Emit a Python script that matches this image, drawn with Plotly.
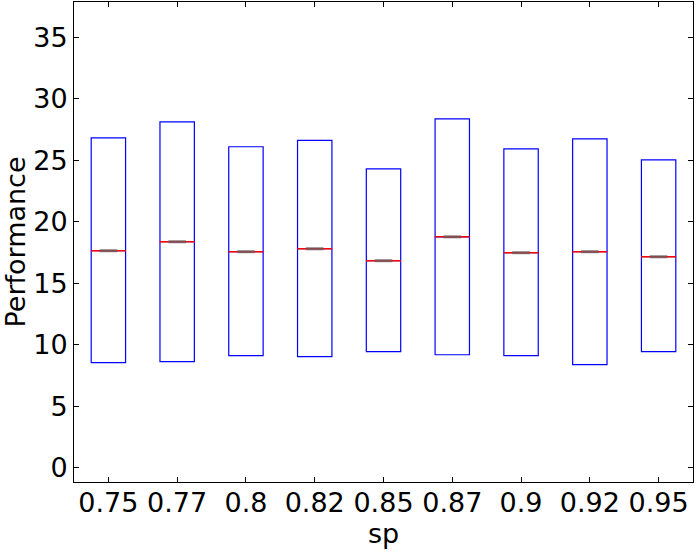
import plotly.graph_objects as go

categories = ["0.75", "0.77", "0.8", "0.82", "0.85", "0.87", "0.9", "0.92", "0.95"]
q1_values = [8.55, 8.63, 9.11, 9.03, 9.44, 9.19, 9.11, 8.38, 9.44]
median_values = [17.64, 18.37, 17.56, 17.80, 16.83, 18.77, 17.48, 17.56, 17.15]
q3_values = [26.81, 28.11, 26.09, 26.60, 24.29, 28.35, 25.92, 26.73, 25.02]
y_ticks = [0, 5, 10, 15, 20, 25, 30, 35]

FONT = "DejaVu Sans"

fig = go.Figure()
fig.add_trace(go.Box(
    x=categories,
    q1=q1_values,
    median=median_values,
    q3=q3_values,
    lowerfence=q1_values,
    upperfence=q3_values,
    width=0.5,
    whiskerwidth=0,
    line=dict(color="rgb(0,0,255)", width=1.2),
    fillcolor="rgba(0,0,0,0)",
    boxpoints=False,
    showlegend=False,
    hoverinfo="skip",
))
# red median lines
fig.add_trace(go.Scatter(
    x=categories, y=median_values, mode="markers",
    marker=dict(symbol="line-ew", size=25, color="rgb(255,0,0)",
                line=dict(color="rgb(255,0,0)", width=1.5)),
    showlegend=False, hoverinfo="skip",
))
# grey centre marks on medians
fig.add_trace(go.Scatter(
    x=categories, y=median_values, mode="markers",
    marker=dict(symbol="line-ew", size=12.6, color="rgba(110,90,90,0.8)",
                line=dict(color="rgba(110,90,90,0.8)", width=3)),
    showlegend=False, hoverinfo="skip",
))

axis_common = dict(
    showline=True, linecolor="black", linewidth=1, mirror="ticks",
    ticks="inside", ticklen=5, tickcolor="black", tickwidth=1,
    showgrid=False, zeroline=False, automargin=False,
    tickfont=dict(family=FONT, size=27, color="black"),
)

fig.update_layout(
    width=696, height=552,
    margin=dict(l=74, r=3, t=2, b=70),
    paper_bgcolor="white", plot_bgcolor="white",
    font=dict(family=FONT, size=26, color="black"),
    xaxis=dict(
        **axis_common,
        type="category",
        categoryorder="array", categoryarray=categories,
        range=[-0.5, 8.5],
        ticklabelstandoff=-3,
        title=dict(text="sp", font=dict(family=FONT, size=27, color="black"), standoff=4),
    ),
    yaxis=dict(
        **axis_common,
        range=[-1.15, 37.85],
        tickvals=y_ticks,
        ticktext=[str(t) for t in y_ticks],
        title=dict(text="Performance", font=dict(family=FONT, size=27, color="black"), standoff=4),
    ),
)

fig.write_html("out.html", config={"displayModeBar": False},
               post_script="document.body.style.margin='0px';")
